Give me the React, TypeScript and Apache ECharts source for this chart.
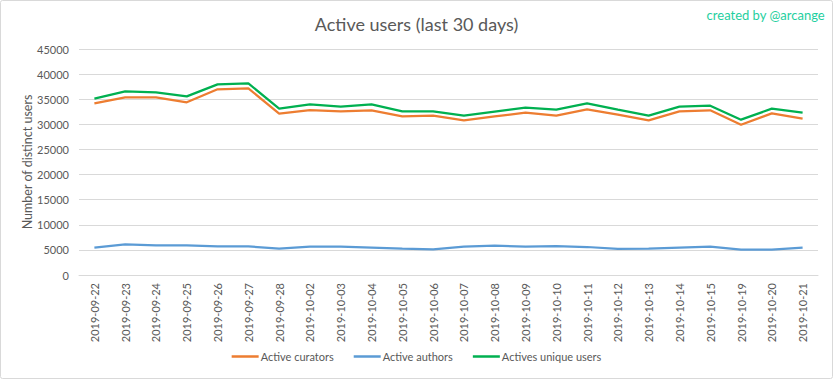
import React, { useEffect, useRef } from "react";
import * as echarts from "echarts";

const categories = [
  "2019-09-22", "2019-09-23", "2019-09-24", "2019-09-25", "2019-09-26", "2019-09-27",
  "2019-09-28", "2019-10-02", "2019-10-03", "2019-10-04", "2019-10-05", "2019-10-06",
  "2019-10-07", "2019-10-08", "2019-10-09", "2019-10-10", "2019-10-11", "2019-10-12",
  "2019-10-13", "2019-10-14", "2019-10-15", "2019-10-19", "2019-10-20", "2019-10-21",
];

const activeCurators = [
  34180, 35380, 35380, 34380, 36970, 37170, 32120, 32850, 32590, 32790, 31590, 31720,
  30800, 31590, 32320, 31720, 32990, 31920, 30800, 32590, 32790, 29930, 32190, 31130,
];

const activeAuthors = [
  5440, 6100, 5900, 5900, 5710, 5710, 5240, 5640, 5640, 5440, 5240, 5110,
  5640, 5840, 5640, 5770, 5575, 5180, 5240, 5440, 5640, 5040, 5040, 5440,
];

const uniqueUsers = [
  35110, 36570, 36370, 35575, 37960, 38160, 33120, 33980, 33520, 33980, 32590, 32590,
  31720, 32520, 33320, 32920, 34180, 32920, 31720, 33520, 33720, 30930, 33120, 32320,
];

const FONT = "Lato, 'Liberation Sans', sans-serif";
const TXT = "#595959";

export default function App() {
  const ref = useRef<HTMLDivElement>(null);
  useEffect(() => {
    if (!ref.current) return;
    const chart = echarts.init(ref.current, undefined, { renderer: "svg" });
    chart.setOption({
      animation: false,
      backgroundColor: "#ffffff",
      textStyle: { fontFamily: FONT },
      title: {
        text: "Active users (last 30 days)",
        left: "center",
        top: 10,
        textStyle: { fontFamily: FONT, fontSize: 18, fontWeight: "normal", color: TXT },
      },
      graphic: [
        {
          type: "rect",
          shape: { x: 0.5, y: 0.5, width: 832, height: 378, r: 2 },
          style: { fill: "none", stroke: "#D9D9D9", lineWidth: 1 },
          silent: true,
        },
        {
          type: "text",
          right: 8,
          top: 8,
          style: { text: "created by @arcange", fill: "#1FCFA0", font: `13px ${FONT}` },
        },
      ],
      legend: {
        bottom: 12,
        left: "center",
        icon: "rect",
        itemWidth: 27,
        itemHeight: 2.5,
        itemGap: 20,
        textStyle: { fontFamily: FONT, fontSize: 11, color: TXT, padding: [0, 0, 0, -3] },
        data: ["Active curators", "Active authors", "Actives unique users"],
      },
      grid: { left: 79, right: 15, top: 49, bottom: 104, containLabel: false },
      xAxis: {
        type: "category",
        data: categories,
        boundaryGap: true,
        axisLine: { lineStyle: { color: "#D9D9D9" } },
        axisTick: { show: false },
        axisLabel: { rotate: 90, fontFamily: FONT, fontSize: 11, color: TXT, margin: 8, interval: 0 },
      },
      yAxis: {
        type: "value",
        min: 0,
        max: 45000,
        interval: 5000,
        name: "Number of distinct users",
        nameLocation: "middle",
        nameGap: 45,
        nameMoveOverlap: false,
        nameTextStyle: { fontFamily: FONT, fontSize: 12.5, color: TXT },
        axisLine: { show: false },
        axisTick: { show: false },
        axisLabel: {
          fontFamily: FONT,
          fontSize: 11,
          color: TXT,
          margin: 10,
          formatter: (v: number) => String(v),
        },
        splitLine: { lineStyle: { color: "#D9D9D9" } },
      },
      series: [
        {
          name: "Active curators",
          type: "line",
          data: activeCurators,
          showSymbol: false,
          symbol: "none",
          lineStyle: { width: 2.25, color: "#ED7D31" },
          itemStyle: { color: "#ED7D31" },
        },
        {
          name: "Active authors",
          type: "line",
          data: activeAuthors,
          showSymbol: false,
          symbol: "none",
          lineStyle: { width: 2.25, color: "#5B9BD5" },
          itemStyle: { color: "#5B9BD5" },
        },
        {
          name: "Actives unique users",
          type: "line",
          data: uniqueUsers,
          showSymbol: false,
          symbol: "none",
          lineStyle: { width: 2.25, color: "#00B050" },
          itemStyle: { color: "#00B050" },
        },
      ],
    });
    return () => chart.dispose();
  }, []);
  return (
    <div
      ref={ref}
      style={{ position: "absolute", left: 0, top: 0, width: 833, height: 379 }}
    />
  );
}
